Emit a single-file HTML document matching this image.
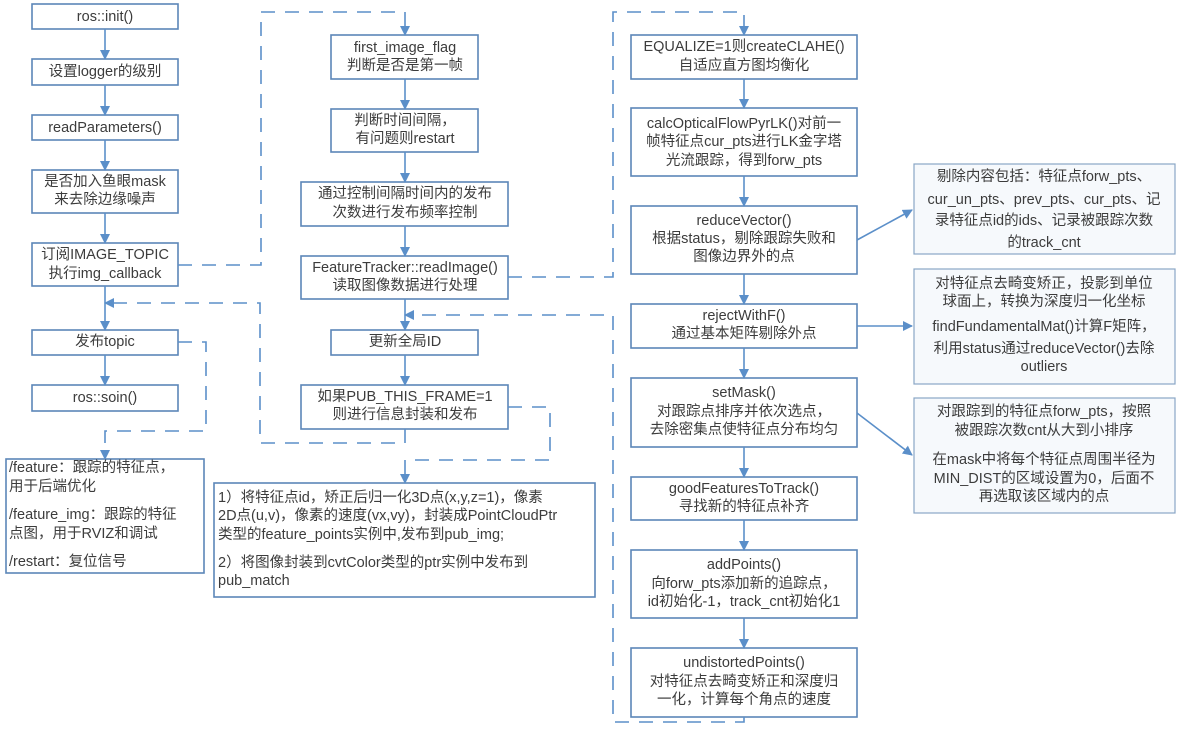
<!DOCTYPE html>
<html><head><meta charset="utf-8"><style>
html,body{margin:0;padding:0;background:#fff;}
svg{display:block;font-family:"Liberation Sans","Noto Sans CJK SC",sans-serif;font-size:14.5px;}
text{fill:#3c3c3c;dominant-baseline:middle;}
.b{fill:#fff;stroke:#5b86b8;stroke-width:1.6;}
.n{fill:#f6f9fc;stroke:#8aa6c6;stroke-width:1.2;}
.s{fill:none;stroke:#5b8fc9;stroke-width:1.6;}
.d{fill:none;stroke:#5b8fc9;stroke-width:1.6;stroke-dasharray:14 10;}
</style></head><body>
<svg width="1180" height="733" viewBox="0 0 1180 733">
<defs><marker id="a" markerWidth="10" markerHeight="10" refX="9" refY="5" orient="auto" markerUnits="userSpaceOnUse"><path d="M0,0 L10,5 L0,10 z" fill="#5b8fc9"/></marker></defs>

<!-- left column -->
<rect class="b" x="32" y="4" width="146" height="25"/><text x="105" y="17" text-anchor="middle">ros::init()</text>
<rect class="b" x="32" y="59" width="146" height="26"/><text x="105" y="72" text-anchor="middle">设置logger的级别</text>
<rect class="b" x="32" y="115" width="146" height="25"/><text x="105" y="128" text-anchor="middle">readParameters()</text>
<rect class="b" x="32" y="170" width="146" height="43"/><text x="105" y="182" text-anchor="middle">是否加入鱼眼mask</text><text x="105" y="200" text-anchor="middle">来去除边缘噪声</text>
<rect class="b" x="32" y="243" width="146" height="43"/><text x="105" y="255" text-anchor="middle">订阅IMAGE_TOPIC</text><text x="105" y="274" text-anchor="middle">执行img_callback</text>
<rect class="b" x="32" y="330" width="146" height="25"/><text x="105" y="342" text-anchor="middle">发布topic</text>
<rect class="b" x="32" y="385" width="146" height="26"/><text x="105" y="398" text-anchor="middle">ros::soin()</text>
<rect class="b" x="6" y="459" width="198" height="114"/>
<text x="9" y="468">/feature：跟踪的特征点，</text><text x="9" y="487">用于后端优化</text>
<text x="9" y="515">/feature_img：跟踪的特征</text><text x="9" y="534">点图，用于RVIZ和调试</text>
<text x="9" y="562">/restart：复位信号</text>
<g class="s"><line x1="105" y1="29" x2="105" y2="59" marker-end="url(#a)"/><line x1="105" y1="85" x2="105" y2="115" marker-end="url(#a)"/><line x1="105" y1="140" x2="105" y2="170" marker-end="url(#a)"/><line x1="105" y1="213" x2="105" y2="243" marker-end="url(#a)"/><line x1="105" y1="286" x2="105" y2="330" marker-end="url(#a)"/><line x1="105" y1="355" x2="105" y2="385" marker-end="url(#a)"/></g>

<!-- middle column -->
<rect class="b" x="331" y="35" width="147" height="44"/><text x="405" y="48" text-anchor="middle">first_image_flag</text><text x="405" y="66" text-anchor="middle">判断是否是第一帧</text>
<rect class="b" x="331" y="109" width="147" height="43"/><text x="405" y="121" text-anchor="middle">判断时间间隔，</text><text x="405" y="139" text-anchor="middle">有问题则restart</text>
<rect class="b" x="301" y="182" width="207" height="44"/><text x="405" y="194" text-anchor="middle">通过控制间隔时间内的发布</text><text x="405" y="213" text-anchor="middle">次数进行发布频率控制</text>
<rect class="b" x="301" y="256" width="207" height="43"/><text x="405" y="268" text-anchor="middle">FeatureTracker::readImage()</text><text x="405" y="286" text-anchor="middle">读取图像数据进行处理</text>
<rect class="b" x="331" y="330" width="147" height="25"/><text x="405" y="342" text-anchor="middle">更新全局ID</text>
<rect class="b" x="301" y="385" width="207" height="44"/><text x="405" y="397" text-anchor="middle">如果PUB_THIS_FRAME=1</text><text x="405" y="415" text-anchor="middle">则进行信息封装和发布</text>
<rect class="b" x="214" y="483" width="381" height="114"/>
<text x="218" y="498">1）将特征点id，矫正后归一化3D点(x,y,z=1)，像素</text>
<text x="218" y="516">2D点(u,v)，像素的速度(vx,vy)，封装成PointCloudPtr</text>
<text x="218" y="535">类型的feature_points实例中,发布到pub_img;</text>
<text x="218" y="563">2）将图像封装到cvtColor类型的ptr实例中发布到</text>
<text x="218" y="581">pub_match</text>
<g class="s"><line x1="405" y1="79" x2="405" y2="109" marker-end="url(#a)"/><line x1="405" y1="152" x2="405" y2="182" marker-end="url(#a)"/><line x1="405" y1="226" x2="405" y2="256" marker-end="url(#a)"/><line x1="405" y1="299" x2="405" y2="330" marker-end="url(#a)"/><line x1="405" y1="355" x2="405" y2="385" marker-end="url(#a)"/></g>

<!-- right column -->
<rect class="b" x="631" y="35" width="226" height="44"/><text x="744" y="47" text-anchor="middle">EQUALIZE=1则createCLAHE()</text><text x="744" y="66" text-anchor="middle">自适应直方图均衡化</text>
<rect class="b" x="631" y="108" width="226" height="68"/><text x="744" y="124" text-anchor="middle">calcOpticalFlowPyrLK()对前一</text><text x="744" y="142" text-anchor="middle">帧特征点cur_pts进行LK金字塔</text><text x="744" y="161" text-anchor="middle">光流跟踪，得到forw_pts</text>
<rect class="b" x="631" y="206" width="226" height="68"/><text x="744" y="221" text-anchor="middle">reduceVector()</text><text x="744" y="239" text-anchor="middle">根据status，剔除跟踪失败和</text><text x="744" y="257" text-anchor="middle">图像边界外的点</text>
<rect class="b" x="631" y="304" width="226" height="44"/><text x="744" y="316" text-anchor="middle">rejectWithF()</text><text x="744" y="334" text-anchor="middle">通过基本矩阵剔除外点</text>
<rect class="b" x="631" y="378" width="226" height="69"/><text x="744" y="393" text-anchor="middle">setMask()</text><text x="744" y="412" text-anchor="middle">对跟踪点排序并依次选点，</text><text x="744" y="430" text-anchor="middle">去除密集点使特征点分布均匀</text>
<rect class="b" x="631" y="477" width="226" height="43"/><text x="744" y="489" text-anchor="middle">goodFeaturesToTrack()</text><text x="744" y="507" text-anchor="middle">寻找新的特征点补齐</text>
<rect class="b" x="631" y="550" width="226" height="68"/><text x="744" y="565" text-anchor="middle">addPoints()</text><text x="744" y="584" text-anchor="middle">向forw_pts添加新的追踪点，</text><text x="744" y="602" text-anchor="middle">id初始化-1，track_cnt初始化1</text>
<rect class="b" x="631" y="648" width="226" height="69"/><text x="744" y="663" text-anchor="middle">undistortedPoints()</text><text x="744" y="682" text-anchor="middle">对特征点去畸变矫正和深度归</text><text x="744" y="700" text-anchor="middle">一化，计算每个角点的速度</text>
<g class="s"><line x1="744" y1="79" x2="744" y2="108" marker-end="url(#a)"/><line x1="744" y1="176" x2="744" y2="206" marker-end="url(#a)"/><line x1="744" y1="274" x2="744" y2="304" marker-end="url(#a)"/><line x1="744" y1="348" x2="744" y2="378" marker-end="url(#a)"/><line x1="744" y1="447" x2="744" y2="477" marker-end="url(#a)"/><line x1="744" y1="520" x2="744" y2="550" marker-end="url(#a)"/><line x1="744" y1="618" x2="744" y2="648" marker-end="url(#a)"/>
<line x1="857" y1="240" x2="912" y2="210" marker-end="url(#a)"/><line x1="857" y1="326" x2="912" y2="326" marker-end="url(#a)"/><line x1="857" y1="413" x2="912" y2="455" marker-end="url(#a)"/></g>

<!-- notes -->
<rect class="n" x="914" y="164" width="261" height="90"/>
<text x="1044" y="177" text-anchor="middle">剔除内容包括：特征点forw_pts、</text><text x="1044" y="200" text-anchor="middle">cur_un_pts、prev_pts、cur_pts、记</text><text x="1044" y="221" text-anchor="middle">录特征点id的ids、记录被跟踪次数</text><text x="1044" y="243" text-anchor="middle">的track_cnt</text>
<rect class="n" x="914" y="269" width="261" height="115"/>
<text x="1044" y="284" text-anchor="middle">对特征点去畸变矫正，投影到单位</text><text x="1044" y="302" text-anchor="middle">球面上，转换为深度归一化坐标</text><text x="1044" y="327" text-anchor="middle">findFundamentalMat()计算F矩阵，</text><text x="1044" y="349" text-anchor="middle">利用status通过reduceVector()去除</text><text x="1044" y="367" text-anchor="middle">outliers</text>
<rect class="n" x="914" y="398" width="261" height="115"/>
<text x="1044" y="412" text-anchor="middle">对跟踪到的特征点forw_pts，按照</text><text x="1044" y="431" text-anchor="middle">被跟踪次数cnt从大到小排序</text><text x="1044" y="460" text-anchor="middle">在mask中将每个特征点周围半径为</text><text x="1044" y="479" text-anchor="middle">MIN_DIST的区域设置为0，后面不</text><text x="1044" y="497" text-anchor="middle">再选取该区域内的点</text>

<!-- dashed connectors -->
<g class="d">
<polyline points="178,265 261,265 261,12 405,12 405,35" marker-end="url(#a)"/>
<polyline points="508,277 613,277 613,12 744,12 744,35" marker-end="url(#a)"/>
<polyline points="744,717 744,722 613,722 613,315 405,315" marker-end="url(#a)"/>
<polyline points="405,429 405,443 260,443 260,303 105,303" marker-end="url(#a)"/>
<polyline points="178,342 206,342 206,431 105,431 105,459" marker-end="url(#a)"/>
<polyline points="508,407 550,407 550,460 405,460 405,483" marker-end="url(#a)"/>
</g>
</svg>
</body></html>
